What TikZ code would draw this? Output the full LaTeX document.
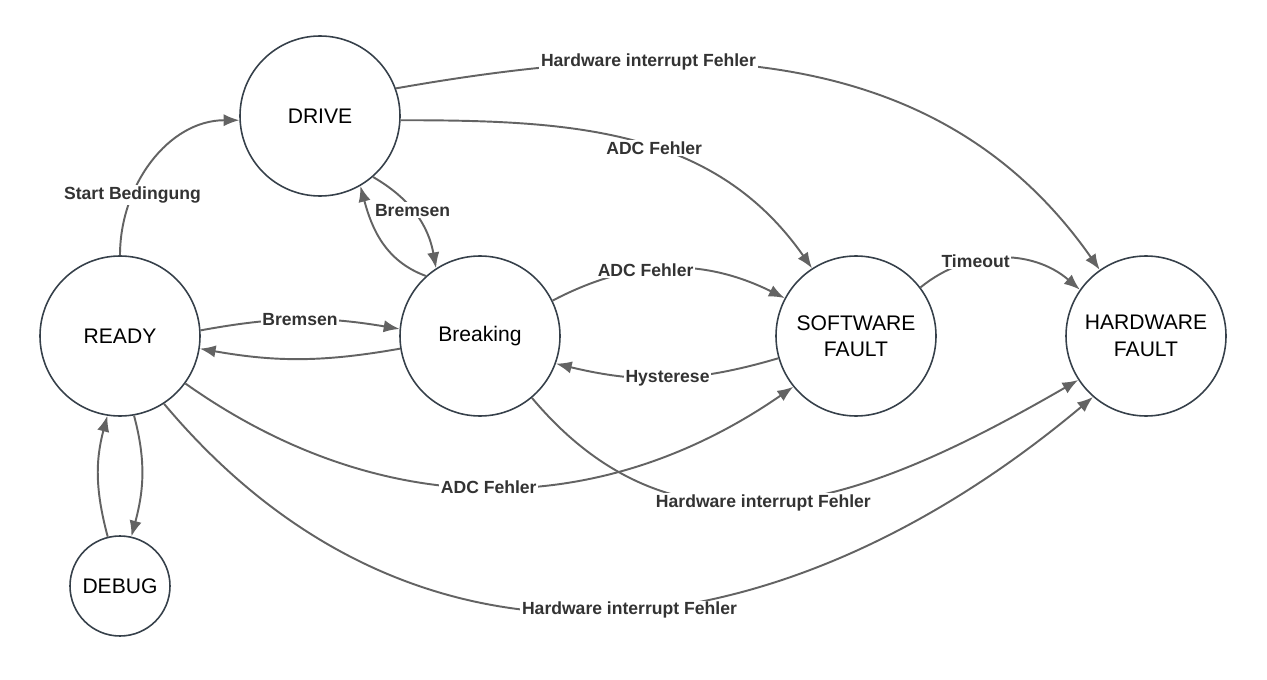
\documentclass[tikz,border=0pt]{standalone}
\usepackage{fontspec}
\setmainfont{Liberation Sans}
\usepackage{xcolor}
\usepackage{tikz}
\usetikzlibrary{shapes.geometric, arrows.meta, positioning}
\definecolor{kreis}{HTML}{36404A}
\definecolor{pfeil}{HTML}{636363}
\definecolor{schrift}{HTML}{333333}
\tikzstyle{state} = [circle, minimum size=3.2cm, inner sep=0pt, text centered, align=center, draw=kreis, line width=0.9pt, font=\fontsize{12}{15}\selectfont]
\tikzstyle{smallstate} = [state, minimum size=2cm]
\tikzstyle{arrow} = [draw=pfeil, line width=1.1pt, -{Latex[length=9pt,width=7pt]}]
\tikzstyle{edgelabel} = [fill=white, inner sep=1pt, text=schrift, font=\fontsize{10}{12}\selectfont\bfseries]

\begin{document}
\begin{tikzpicture}[node distance=7.2cm]
		\useasboundingbox (0,0) rectangle (25.34,-13.6);
		\node (ready) [state] at (2.4,-6.72) {READY};
		\node (breaking) [state,right of=ready] {Breaking};
		\node (swfault) [state,right of=breaking,xshift=0.32cm] {SOFTWARE\\FAULT};
		\node (hwfault) [state,right of=swfault,xshift=-1.4cm] {HARDWARE\\FAULT};
		\node (drive) [state,above of=ready,xshift=4cm,yshift=-2.8cm] {DRIVE};
		\node (debug) [smallstate,below of=ready,yshift=2.2cm] {DEBUG};
		\draw [arrow] (ready.90) to[out=90,in=180] node[edgelabel,pos=0.3] {Start Bedingung} (drive.183);
		\draw [arrow] (drive.20) to[out=10,in=125] node[edgelabel,pos=0.31] {Hardware interrupt Fehler} (hwfault.125);
		\draw [arrow] (drive.-3) to[out=0,in=125] node[edgelabel,pos=0.55] {ADC Fehler} (swfault.123);
		\draw [arrow] (drive.-49) to[out=-30,in=100] node[edgelabel,pos=0.45] {Bremsen} (breaking.123);
		\draw [arrow] (breaking.132) to[out=160,in=-75] (drive.-60);
		\draw [arrow] (ready.4) to[bend left=10] node[edgelabel] {Bremsen} (breaking.175);
		\draw [arrow] (breaking.189) to[bend left=10] (ready.-9);
		\draw [arrow] (breaking.26) to[bend left=27] node[edgelabel,pos=0.4] {ADC Fehler} (swfault.152);
		\draw [arrow] (swfault.196) to[bend left=15] node[edgelabel] {Hysterese} (breaking.-20);
		\draw [arrow] (swfault.37) to[bend left=40] node[edgelabel,pos=0.35] {Timeout} (hwfault.145);
		\draw [arrow] (ready.-36) to[bend right=35] node[edgelabel] {ADC Fehler} (swfault.-141);
		\draw [arrow] (breaking.-50) to[out=-50,in=-150,looseness=1.1] node[edgelabel,pos=0.46] {Hardware interrupt Fehler} (hwfault.-147);
		\draw [arrow] (ready.-57) to[out=-50,in=-140,looseness=1.1] node[edgelabel,pos=0.52] {Hardware interrupt Fehler} (hwfault.-131);
		\draw [arrow] (ready.-80) to[out=-75,in=75] (debug.77);
		\draw [arrow] (debug.104) to[out=105,in=-105] (ready.-99);
	\end{tikzpicture}
\end{document}
